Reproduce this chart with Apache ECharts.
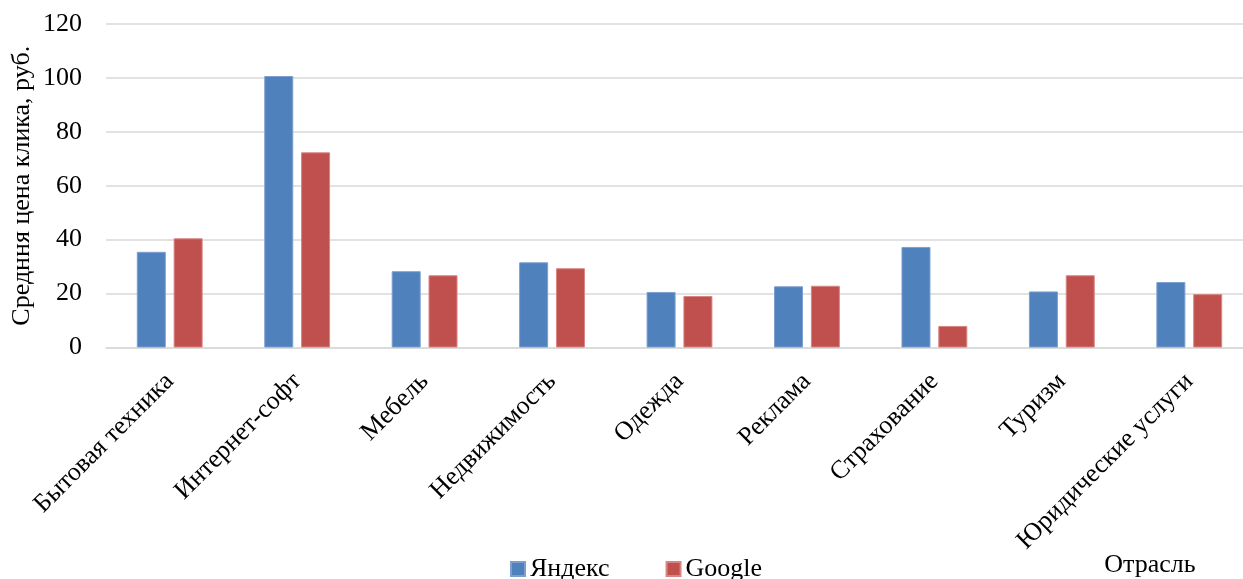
<!DOCTYPE html>
<html>
<head>
<meta charset="utf-8">
<script src="https://cdn.jsdelivr.net/npm/echarts@6/dist/echarts.min.js"></script>
<style>
html,body{margin:0;padding:0;background:#fff;}
#chart{width:1243px;height:579px;}
</style>
</head>
<body>
<div id="chart"></div>
<script>
const categories = ['Бытовая техника','Интернет-софт','Мебель','Недвижимость','Одежда','Реклама','Страхование','Туризм','Юридические услуги'];
const yandexValues = [35.5, 100.7, 28.3, 31.6, 20.6, 22.7, 37.3, 20.8, 24.3];
const googleValues = [40.5, 72.4, 26.8, 29.4, 19.1, 22.9, 8.0, 26.8, 19.8];
const seriesNames = ['Яндекс', 'Google'];
const yAxisTitle = 'Средння цена клика, руб.';
const xAxisTitle = 'Отрасль';

const font = '"Liberation Serif", "Times New Roman", serif';
const chart = echarts.init(document.getElementById('chart'), null, {renderer: 'canvas'});
chart.setOption({
  animation: false,
  backgroundColor: '#ffffff',
  textStyle: {fontFamily: font},
  grid: {left: 106, top: 24, width: 1147, height: 323.5, containLabel: false, outerBoundsMode: 'none'},
  legend: {
    data: seriesNames,
    left: 505, top: 551,
    itemWidth: 14, itemHeight: 14, itemGap: 56,
    icon: 'rect',
    textStyle: {fontFamily: font, fontSize: 26, color: '#000'}
  },
  xAxis: {
    type: 'category',
    data: categories,
    name: xAxisTitle,
    nameLocation: 'end',
    nameGap: -103,
    nameMoveOverlap: false,
    nameTextStyle: {fontFamily: font, fontSize: 26, color: '#000', align: 'center', verticalAlign: 'top', padding: [205,0,0,0]},
    axisLine: {lineStyle: {color: '#d9d9d9', width: 1.5}},
    axisTick: {show: false},
    axisLabel: {rotate: 45, interval: 0, margin: 30, fontFamily: font, fontSize: 26, color: '#000'}
  },
  yAxis: {
    type: 'value',
    min: 0, max: 120, interval: 20,
    name: yAxisTitle,
    nameLocation: 'middle',
    nameGap: 71,
    nameMoveOverlap: false,
    nameTextStyle: {fontFamily: font, fontSize: 26, color: '#000'},
    axisLine: {show: false},
    axisTick: {show: false},
    axisLabel: {margin: 24, fontFamily: font, fontSize: 26, color: '#000'},
    splitLine: {lineStyle: {color: '#d9d9d9', width: 1.5}}
  },
  series: [
    {name: seriesNames[0], type: 'bar', data: yandexValues, barWidth: 29, barGap: '27%',
     itemStyle: {color: '#4F81BD', borderColor: '#7d9fd0', borderWidth: 1}},
    {name: seriesNames[1], type: 'bar', data: googleValues, barWidth: 29, barGap: '27%',
     itemStyle: {color: '#C0504D', borderColor: '#d98583', borderWidth: 1}}
  ]
});
</script>
</body>
</html>
